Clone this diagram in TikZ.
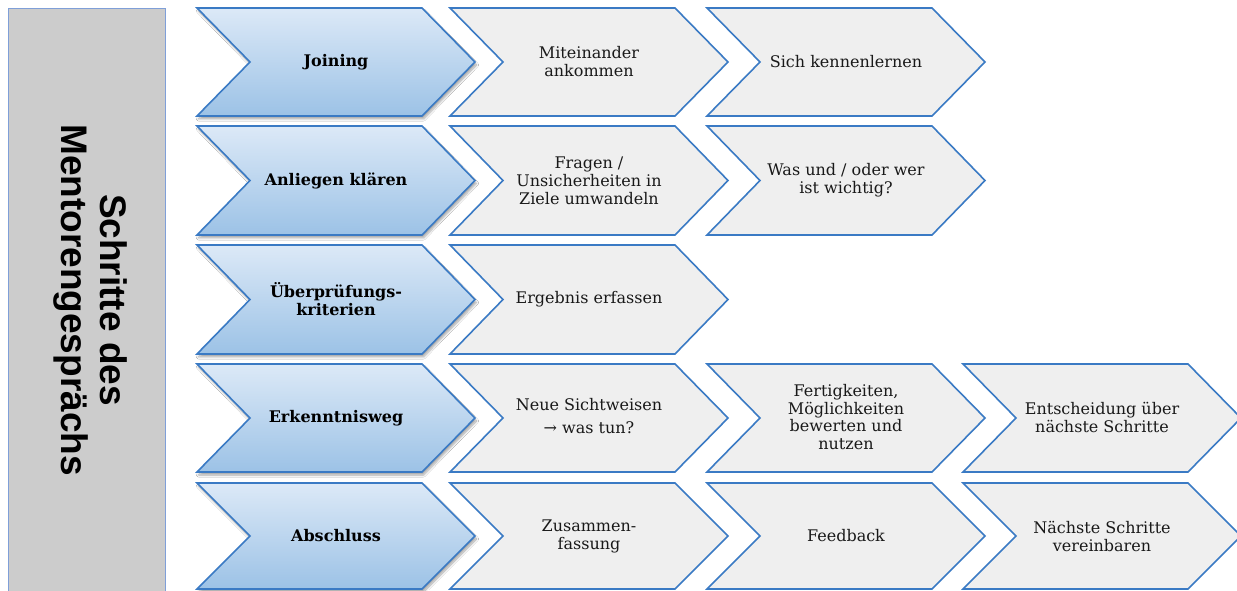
\documentclass[tikz,border=0pt]{standalone}
\usepackage{fontspec}
\setmainfont{DejaVu Serif}
\newfontfamily\arialfont{Liberation Sans}
\usetikzlibrary{shadows.blur}
\definecolor{chevborder}{RGB}{58,122,196}
\definecolor{bluetop}{RGB}{220,233,247}
\definecolor{bluebot}{RGB}{156,194,230}
\definecolor{grayfill}{RGB}{239,239,239}
\definecolor{leftfill}{RGB}{204,204,204}
\definecolor{leftborder}{RGB}{127,159,216}
\tikzset{
  bluechev/.style={draw=chevborder, line width=1.6pt, top color=bluetop, bottom color=bluebot,
    blur shadow={shadow xshift=1.5pt, shadow yshift=-3pt, shadow blur steps=8, shadow opacity=35}},
  graychev/.style={draw=chevborder, line width=1.6pt, fill=grayfill},
  bluetxt/.style={align=center, font=\fontsize{16}{18}\selectfont\bfseries, text=black},
  graytxt/.style={align=center, font=\fontsize{16}{18}\selectfont, text=black!90},
}
% #1 style, #2 left x, #3 top py, #4 bottom py
\newcommand\mychev[4]{%
  \path[#1] (#2,590-#3) -- ++(225,0) -- (#2+278,{590-(#3+#4)/2}) -- (#2+225,590-#4)
    -- (#2,590-#4) -- (#2+53,{590-(#3+#4)/2}) -- cycle;}
\begin{document}
\begin{tikzpicture}[x=1pt,y=1pt]
\useasboundingbox (0,0) rectangle (1237,590);
\fill[white] (0,0) rectangle (1237,590);
% left box
\node[draw=leftborder, line width=1pt, fill=leftfill, minimum width=157pt, minimum height=600pt,
  anchor=north west, inner sep=0pt] (leftbox) at (8,582) {};
\node[rotate=-90, align=center, font=\arialfont\bfseries\fontsize{37}{39}\selectfont] (title)
  at (90,290) {Schritte des\\Mentorengesprächs};
% rows
\foreach \t/\b in {8/116,126/235,245/354,364/472,483/589}{
  \mychev{bluechev}{197}{\t}{\b}
}
\foreach \t/\b in {8/116,126/235,245/354,364/472,483/589}{
  \mychev{graychev}{450}{\t}{\b}
}
\foreach \t/\b in {8/116,126/235,364/472,483/589}{
  \mychev{graychev}{707}{\t}{\b}
}
\foreach \t/\b in {364/472,483/589}{
  \mychev{graychev}{963}{\t}{\b}
}
% texts column 1
\node[bluetxt] (j) at (336,590-62) {Joining};
\node[bluetxt] (a) at (336,590-180.5) {Anliegen klären};
\node[bluetxt] (u) at (336,590-299.5) {Überprüfungs-\\kriterien};
\node[bluetxt] (e) at (336,590-418) {Erkenntnisweg};
\node[bluetxt] (ab) at (336,590-536) {Abschluss};
% column 2
\node[graytxt] (m) at (589,590-62) {Miteinander\\ankommen};
\node[graytxt] (f) at (589,590-180.5) {Fragen /\\Unsicherheiten in\\Ziele umwandeln};
\node[graytxt] (er) at (589,590-299.5) {Ergebnis erfassen};
\node[graytxt] (n) at (589,590-416) {Neue Sichtweisen\\[5pt]→ was tun?};
\node[graytxt] (z) at (589,590-536) {Zusammen-\\fassung};
% column 3
\node[graytxt] (s) at (846,590-62) {Sich kennenlernen};
\node[graytxt] (w) at (846,590-180.5) {Was und / oder wer\\ist wichtig?};
\node[graytxt, font=\fontsize{16}{17.5}\selectfont] (fe) at (846,590-417) {Fertigkeiten,\\Möglichkeiten\\bewerten und\\nutzen};
\node[graytxt] (fb) at (846,590-536) {Feedback};
% column 4
\node[graytxt] (en) at (1102,590-417) {Entscheidung über\\nächste Schritte};
\node[graytxt] (ns) at (1102,590-536) {Nächste Schritte\\vereinbaren};
\end{tikzpicture}
\end{document}
